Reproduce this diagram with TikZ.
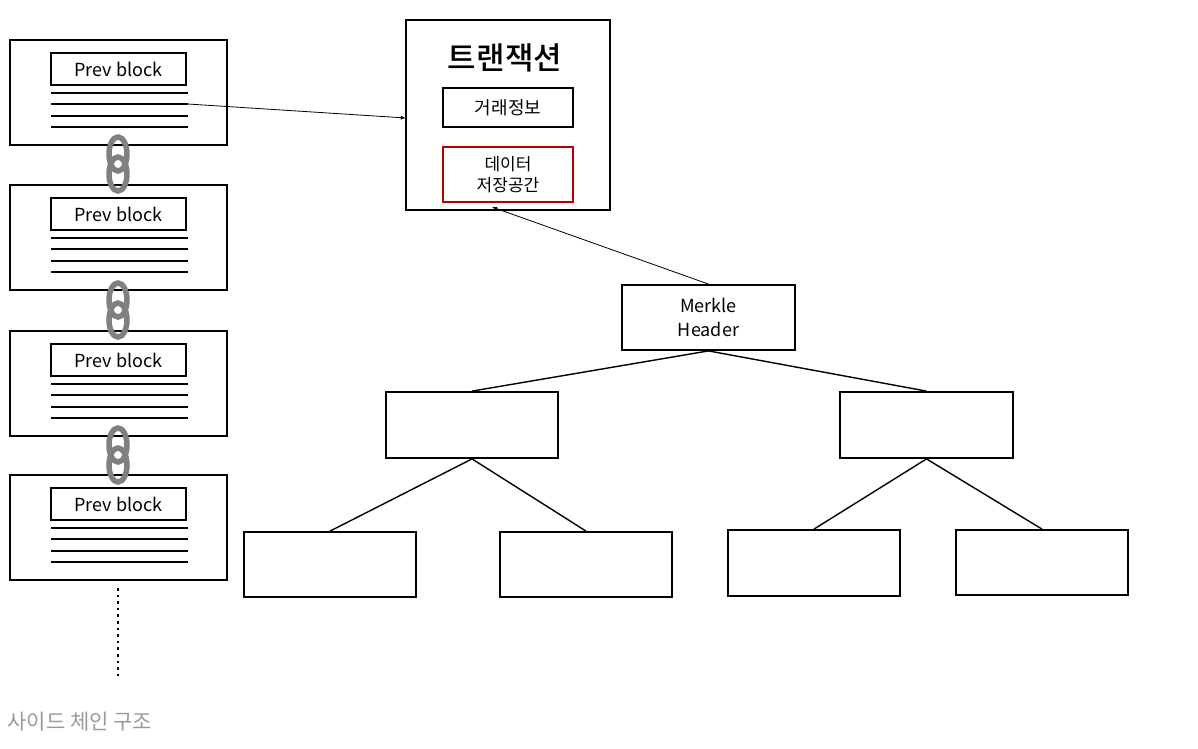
\documentclass[tikz,border=0pt]{standalone}
\usepackage{fontspec}
\setmainfont{Noto Sans CJK KR}
\newfontfamily\titlefont{Noto Sans CJK KR Medium}
\begin{document}
\begin{tikzpicture}[x=1pt,y=-1pt,
  box/.style={draw,line width=1.8pt,inner sep=0pt},
  inbox/.style={draw,line width=1.4pt,inner sep=0pt},
  link/.style={draw=gray,line width=5.5pt},
  conn/.style={line width=1.4pt},
  arr/.style={line width=0.8pt,-latex}]
\useasboundingbox (0,0) rectangle (1198,748);
\foreach \i/\y in {1/40,2/185,3/331,4/475}{
  \draw[box] (10,\y) rectangle (227,\y+105);
  \node[inbox,minimum width=135pt,minimum height=32pt,font=\fontsize{18}{20}\selectfont] (pb\i) at (118.5,\y+29) {Prev block};
  \foreach \d in {53,64,76,87}{\draw[line width=1.8pt] (51,\y+\d) -- (188,\y+\d);}
}
\coordinate (b1line) at (188,104);
\foreach \y in {145,291,436}{
  \draw[link] (118,\y+9) ellipse (9pt and 17pt);
  \draw[link] (118,\y+29) ellipse (9pt and 17pt);
}
\draw[line width=2.6pt,dash pattern=on 2.6pt off 4pt] (118,588) -- (118,680);
\node[anchor=west,text=gray!80,font=\fontsize{21}{24}\selectfont] (cap) at (4,722) {사이드 체인 구조};
% transaction
\node[box,minimum width=204pt,minimum height=190pt] (tx) at (508,115) {};
\node[font=\fontsize{31}{34}\selectfont\titlefont] (txt) at (505,58) {트랜잭션};
\node[box,minimum width=130pt,minimum height=39pt,font=\fontsize{18}{20}\selectfont] (info) at (508,107.5) {거래정보};
\node[draw=red!70!black,line width=1.4pt,minimum width=130pt,minimum height=55pt,align=center,font=\fontsize{17}{21}\selectfont] (store) at (508,174.5) {데이터\\저장공간};
\draw[arr] (b1line) -- (406,118);
% merkle
\node[box,minimum width=173pt,minimum height=65pt,align=center,font=\fontsize{18}{24}\selectfont] (mh) at (708.5,317.5) {Merkle\\Header};
\draw[arr] (mh.north) -- (492,207);
\node[box,minimum width=172pt,minimum height=66pt] (l) at (472,425) {};
\node[box,minimum width=173pt,minimum height=66pt] (r) at (926.5,425) {};
\node[box,minimum width=172pt,minimum height=65pt] (a) at (330,564.5) {};
\node[box,minimum width=172pt,minimum height=65pt] (b) at (586,564.5) {};
\node[box,minimum width=172pt,minimum height=66pt] (c) at (814,563) {};
\node[box,minimum width=172pt,minimum height=65pt] (d) at (1042,562.5) {};
\draw[conn] (mh.south) -- (l.north);
\draw[conn] (mh.south) -- (r.north);
\draw[conn] (l.south) -- (a.north);
\draw[conn] (l.south) -- (b.north);
\draw[conn] (r.south) -- (c.north);
\draw[conn] (r.south) -- (d.north);
\end{tikzpicture}
\end{document}
